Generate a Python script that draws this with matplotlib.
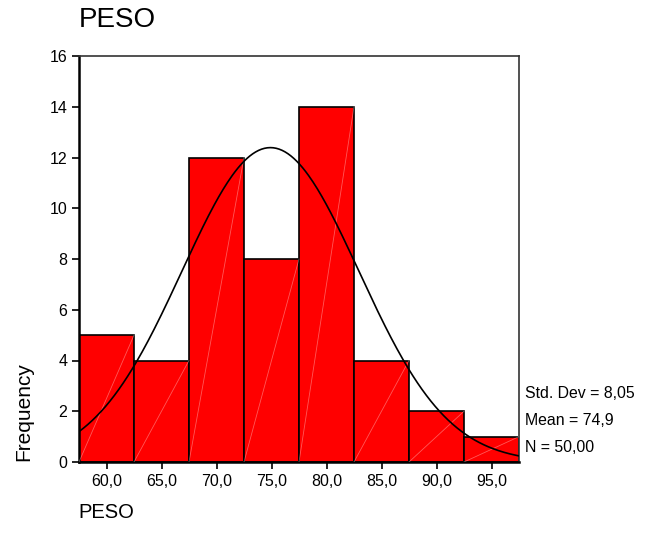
import numpy as np
import matplotlib.pyplot as plt

plt.rcParams['font.family'] = ['Liberation Sans', 'DejaVu Sans']

bin_edges = [57.5, 62.5, 67.5, 72.5, 77.5, 82.5, 87.5, 92.5, 97.5]
counts = [5, 4, 12, 8, 14, 4, 2, 1]
tick_vals = [60, 65, 70, 75, 80, 85, 90, 95]
tick_labels = ["60,0", "65,0", "70,0", "75,0", "80,0", "85,0", "90,0", "95,0"]
std_dev = 8.05
mean = 74.9
n = 50

fig = plt.figure(figsize=(6.55, 5.46), dpi=100)
ax = fig.add_axes([79 / 655, 1 - 462 / 546, 440 / 655, 406 / 546])

lefts = bin_edges[:-1]
width = bin_edges[1] - bin_edges[0]
ax.bar(lefts, counts, width=width, align='edge', color='#ff0000',
       edgecolor='black', linewidth=1.2, zorder=2)

# faint diagonal streaks inside each bar
for l, c in zip(lefts, counts):
    ax.plot([l, l + width], [0, c], color='white', lw=0.6, alpha=0.35, zorder=3)

# normal curve
xs = np.linspace(bin_edges[0], bin_edges[-1], 300)
ys = n * width * np.exp(-0.5 * ((xs - mean) / std_dev) ** 2) / (std_dev * np.sqrt(2 * np.pi))
ax.plot(xs, ys, color='black', lw=1.2, zorder=4)

ax.set_xlim(bin_edges[0], bin_edges[-1])
ax.set_ylim(0, 16)
ax.set_xticks(tick_vals)
ax.set_xticklabels(tick_labels)
ax.set_yticks(range(0, 17, 2))
ax.tick_params(direction='out', length=5, width=1.2, labelsize=11.5, colors='black')
for s in ['left', 'bottom']:
    ax.spines[s].set_linewidth(1.8)
    ax.spines[s].set_color('black')
for s in ['top', 'right']:
    ax.spines[s].set_linewidth(1.2)
    ax.spines[s].set_color('#333333')

fig.text(79 / 655, 1 - 20 / 546, "PESO", fontsize=20, va='center', ha='left')
fig.text(78 / 655, 1 - 512 / 546, "PESO", fontsize=14.5, va='center', ha='left')
fig.text(24 / 655, 1 - 412 / 546, "Frequency", fontsize=15, rotation=90,
         va='center', ha='center')

stats = ["Std. Dev = 8,05", "Mean = 74,9", "N = 50,00"]
for i, s in enumerate(stats):
    fig.text(525 / 655, 1 - (393 + 27.5 * i) / 546, s, fontsize=11.4, va='center', ha='left')

fig.savefig("out.png", dpi=100)
